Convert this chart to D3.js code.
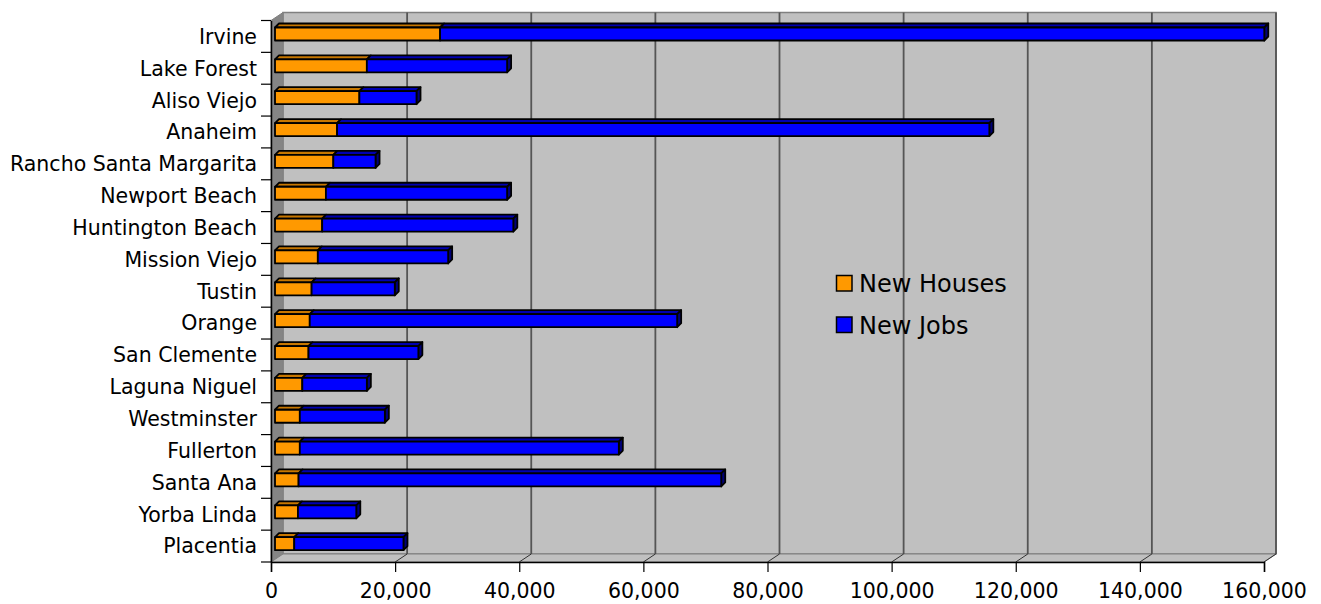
<!DOCTYPE html>
<html><head><meta charset="utf-8">
<script src="https://cdn.jsdelivr.net/npm/d3@7"></script>
<style>html,body{margin:0;padding:0;background:#fff}svg{display:block}</style>
</head><body>
<script>
const categories = ["Irvine","Lake Forest","Aliso Viejo","Anaheim","Rancho Santa Margarita","Newport Beach","Huntington Beach","Mission Viejo","Tustin","Orange","San Clemente","Laguna Niguel","Westminster","Fullerton","Santa Ana","Yorba Linda","Placentia"];
const newHouses = [26600,14800,13600,10000,9400,8200,7600,6900,5900,5600,5400,4400,4000,4000,3800,3700,3100];
const newJobs = [132800,22600,9200,105100,6800,29200,30800,21000,13400,59200,17700,10400,13700,51400,68100,9400,17600];
const xTicks = [0,20000,40000,60000,80000,100000,120000,140000,160000];
const seriesNames = ["New Houses","New Jobs"];

const W = 1321, H = 604;
const FONT = "'DejaVu Sans', Verdana, sans-serif";
const svg = d3.select("body").append("svg").attr("width", W).attr("height", H);

const x = d3.scaleLinear().domain([0,160000]).range([271,1264]);
const y = d3.scaleBand().domain(categories).range([20.5,562]).padding(0);
const WDX = 12, WDY = -8;
const BDX = 4, BDY = -4;
const BOFF = 4;

const x0 = x(0), x1 = x(160000), yTop = 20.5, yBot = 562;
svg.append("rect").attr("x", x0+WDX).attr("y", yTop+WDY).attr("width", x1-x0).attr("height", yBot-yTop)
  .attr("fill","#c0c0c0").attr("stroke","#808080").attr("stroke-width",1.5);
svg.append("path").attr("d", `M${x0},${yTop}L${x0+WDX},${yTop+WDY}L${x0+WDX},${yBot+WDY}L${x0},${yBot}Z`)
  .attr("fill","#858585").attr("stroke","#808080").attr("stroke-width",1);
svg.append("path").attr("d", `M${x0},${yBot}L${x0+WDX},${yBot+WDY}L${x1+WDX},${yBot+WDY}L${x1},${yBot}Z`)
  .attr("fill","#c0c0c0").attr("stroke","#808080").attr("stroke-width",1);

const grid = svg.append("g");
xTicks.slice(1).forEach(t => {
  const gx = x(t)+WDX;
  grid.append("line").attr("x1",gx).attr("x2",gx).attr("y1",yTop+WDY).attr("y2",yBot+WDY)
    .attr("stroke","#555").attr("stroke-width",1.8);
  grid.append("line").attr("x1",x(t)).attr("x2",gx).attr("y1",yBot).attr("y2",yBot+WDY)
    .attr("stroke","#333").attr("stroke-width",1);
});

const xAxis = d3.axisBottom(x).tickValues(xTicks).tickFormat(d3.format(",")).tickSize(10).tickPadding(11);
const gx = svg.append("g").attr("transform",`translate(0,${yBot})`).call(xAxis);
gx.select(".domain").attr("stroke","#000").attr("stroke-width",1.5);
gx.selectAll(".tick line").attr("stroke","#000").attr("stroke-width",1.2);
gx.selectAll("text").attr("font-family",FONT).attr("font-size",20.5).attr("fill","#000");

const yAxis = d3.axisLeft(y).tickSize(0).tickPadding(14);
const gy = svg.append("g").attr("transform",`translate(${x0},0)`).call(yAxis);
gy.select(".domain").attr("stroke","#000").attr("stroke-width",1.5);
gy.selectAll("text").attr("font-family",FONT).attr("font-size",20.5).attr("fill","#000").attr("dy","0.36em");
const bounds = categories.map(c => y(c)).concat([yBot]);
gy.selectAll(".btick").data(bounds).enter().append("line")
  .attr("x1",-10).attr("x2",0).attr("y1",d=>d).attr("y2",d=>d).attr("stroke","#000").attr("stroke-width",1.2);

const colors = {front:["#FF9900","#0000FF"], top:["#C77700","#0000B0"], side:["#000078"]};
const bars = svg.append("g");
categories.forEach((c,i) => {
  const fy = y(c)+7, fh = 13;
  const a = x(0)+BOFF, b = x(newHouses[i])+BOFF, e = x(newHouses[i]+newJobs[i])+BOFF;
  const g = bars.append("g").attr("stroke","#000").attr("stroke-width",1.8).attr("stroke-linejoin","round");
  g.append("path").attr("d",`M${a},${fy}L${a+BDX},${fy+BDY}L${b+BDX},${fy+BDY}L${b},${fy}Z`).attr("fill",colors.top[0]);
  g.append("path").attr("d",`M${b},${fy}L${b+BDX},${fy+BDY}L${e+BDX},${fy+BDY}L${e},${fy}Z`).attr("fill",colors.top[1]);
  g.append("path").attr("d",`M${e},${fy}L${e+BDX},${fy+BDY}L${e+BDX},${fy+fh+BDY}L${e},${fy+fh}Z`).attr("fill",colors.side[0]);
  g.append("rect").attr("x",a).attr("y",fy).attr("width",b-a).attr("height",fh).attr("fill",colors.front[0]);
  g.append("rect").attr("x",b).attr("y",fy).attr("width",e-b).attr("height",fh).attr("fill",colors.front[1]);
});

const lg = svg.append("g").attr("transform","translate(836,275)");
seriesNames.forEach((n,i) => {
  const row = lg.append("g").attr("transform",`translate(0,${i*41.5})`);
  row.append("rect").attr("x",0.5).attr("y",0.5).attr("width",15.5).attr("height",15.5)
    .attr("fill",colors.front[i]).attr("stroke","#000").attr("stroke-width",1.5);
  row.append("text").attr("x",23).attr("y",17).text(n)
    .attr("font-family",FONT).attr("font-size",24).attr("fill","#000");
});
</script>
</body></html>
